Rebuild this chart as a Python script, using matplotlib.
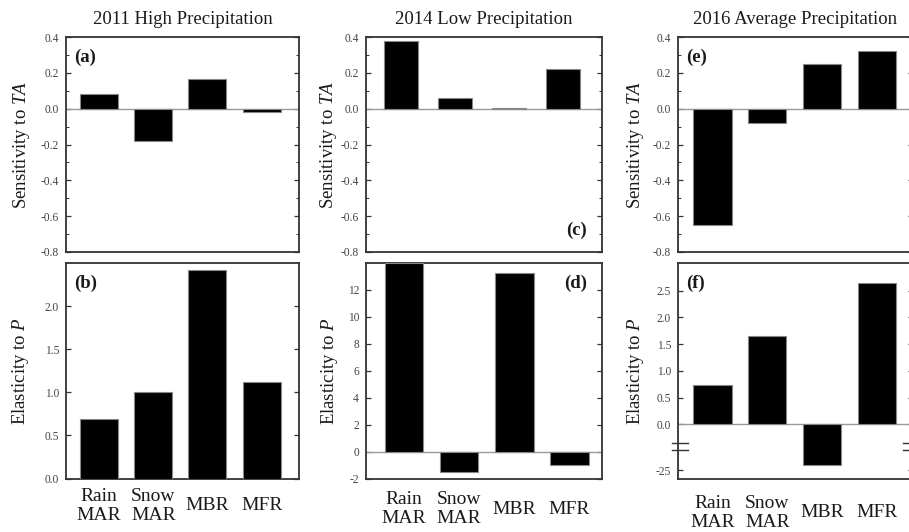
import numpy as np
import matplotlib
matplotlib.use("Agg")
import matplotlib.pyplot as plt
from matplotlib.ticker import MultipleLocator, FixedLocator
from matplotlib.transforms import offset_copy

plt.rcParams['font.family'] = ['Liberation Serif', 'DejaVu Serif']
plt.rcParams['mathtext.fontset'] = 'custom'
plt.rcParams['mathtext.rm'] = 'Liberation Serif'
plt.rcParams['mathtext.it'] = 'Liberation Serif:italic'

# ---------------- data ----------------
categories = ["Rain\nMAR", "Snow\nMAR", "MBR", "MFR"]
titles = ["2011 High Precipitation", "2014 Low Precipitation", "2016 Average Precipitation"]
sens_2011 = [0.082, -0.182, 0.164, -0.021]
elas_2011 = [0.69, 1.00, 2.42, 1.12]
sens_2014 = [0.377, 0.060, 0.005, 0.220]
elas_2014 = [14.0, -1.49, 13.26, -0.99]
sens_2016 = [-0.648, -0.082, 0.250, 0.320]
elas_2016 = [0.73, 1.66, -24.06, 2.64]
sens_ticks = [-0.8, -0.6, -0.4, -0.2, 0.0, 0.2, 0.4]
elas_ticks_2011 = [0.0, 0.5, 1.0, 1.5, 2.0]
elas_ticks_2014 = [-2, 0, 2, 4, 6, 8, 10, 12]
elas_ticks_2016 = [-25, 0.0, 0.5, 1.0, 1.5, 2.0, 2.5]
panel_labels = ["(a)", "(b)", "(c)", "(d)", "(e)", "(f)"]

# broken-axis scale for panel (f)
BRK = 20.6      # data value where the axis is broken
BRK_D = 0.42    # display depth of the break
LOW_K = 0.10    # scale below the break


def fwd(v):
    v = np.asarray(v, dtype=float)
    return np.where(v >= 0, v,
                    np.where(v >= -BRK, v * BRK_D / BRK, -BRK_D + (v + BRK) * LOW_K))


def inv(d):
    d = np.asarray(d, dtype=float)
    return np.where(d >= 0, d,
                    np.where(d >= -BRK_D, d * BRK / BRK_D, -BRK + (d + BRK_D) / LOW_K))


fig = plt.figure(figsize=(9.09, 5.32), dpi=100)
W, H = 909.0, 532.0

cols_x = [(66, 233), (366, 236), (678, 235)]
row_y = [(37, 252), (263, 478.5)]

TXT = '#1a1a1a'
SPN = '#333333'


def make_ax(col, row):
    x0, w = cols_x[col]
    t, b = row_y[row]
    return fig.add_axes([x0 / W, (H - b) / H, w / W, (b - t) / H])


def style(ax):
    for s in ax.spines.values():
        s.set_color(SPN)
        s.set_linewidth(1.3)
    ax.tick_params(axis='y', which='major', direction='in', length=3.5, width=0.9,
                   color=SPN, labelsize=8.3, labelcolor='#444444', pad=5,
                   left=True, right=True)
    ax.tick_params(axis='y', which='minor', direction='in', length=2, width=0.7,
                   color=SPN, left=True, right=True)


sens_data = [sens_2011, sens_2014, sens_2016]
elas_data = [elas_2011, elas_2014, elas_2016]
xlims_top = [(-0.61, 3.69), (-0.65, 3.72), (-0.63, 3.66)]
xlims_bot = [(-0.61, 3.69), (-0.69, 3.59), (-0.63, 3.66)]
widths_top = [0.70, 0.64, 0.70]
widths_bot = [0.70, 0.70, 0.70]
ylab_x_top = [-0.193, -0.161, -0.179]
ylab_x_bot = [-0.197, -0.153, -0.179]
xlab_pad = [19.5, 22.0, 24.5]

pos = np.arange(len(categories))

for c in range(3):
    # ---- top row: sensitivity ----
    ax = make_ax(c, 0)
    ax.bar(pos, sens_data[c], width=widths_top[c], color='black',
           edgecolor='#888888', linewidth=0.8, zorder=3)
    ax.axhline(0, color='#999999', linewidth=1.0, zorder=2)
    ax.set_xlim(*xlims_top[c])
    ax.set_ylim(-0.8, 0.4)
    ax.yaxis.set_major_locator(FixedLocator(sens_ticks))
    ax.set_yticklabels([f"{v:.1f}" for v in sens_ticks])
    ax.yaxis.set_minor_locator(MultipleLocator(0.1))
    ax.set_xticks([])
    style(ax)
    ax.set_ylabel("Sensitivity to $\\mathit{TA}$", fontsize=13.5, color=TXT, va='center')
    ax.yaxis.set_label_coords(ylab_x_top[c], 0.5)
    ax.set_title(titles[c], fontsize=13.5, color=TXT, pad=9)
    if c == 1:
        ax.text(0.935, 0.10, panel_labels[2 * c], transform=ax.transAxes,
                fontsize=13.5, fontweight='bold', ha='right', va='center', color=TXT)
    else:
        ax.text(0.035, 0.905, panel_labels[2 * c], transform=ax.transAxes,
                fontsize=13.5, fontweight='bold', ha='left', va='center', color=TXT)

    # ---- bottom row: elasticity ----
    ax = make_ax(c, 1)
    if c == 2:
        ax.set_yscale('function', functions=(fwd, inv))
    ax.bar(pos, elas_data[c], width=widths_bot[c], color='black',
           edgecolor='#888888', linewidth=0.8, zorder=3)
    ax.set_xlim(*xlims_bot[c])
    if c == 0:
        ax.set_ylim(0, 2.5)
        ticks = elas_ticks_2011
        labels = [f"{v:.1f}" for v in ticks]
    elif c == 1:
        ax.set_ylim(-2, 14)
        ticks = elas_ticks_2014
        labels = [f"{v:d}" for v in ticks]
        ax.axhline(0, color='#999999', linewidth=1.0, zorder=2)
    else:
        ax.set_ylim(-26.55, 3.02)
        ticks = elas_ticks_2016
        labels = ["-25"] + [f"{v:.1f}" for v in ticks[1:]]
        ax.axhline(0, color='#999999', linewidth=1.0, zorder=2)
    ax.yaxis.set_major_locator(FixedLocator(ticks))
    ax.set_yticklabels(labels)
    ax.yaxis.set_minor_locator(FixedLocator([]))
    style(ax)
    ax.set_xticks(pos)
    ax.set_xticklabels(categories, fontsize=14, color=TXT, va='center',
                       linespacing=1.15)
    ax.tick_params(axis='x', length=0, pad=xlab_pad[c])
    ax.set_ylabel("Elasticity to $\\mathit{P}$", fontsize=13.5, color=TXT, va='center')
    ax.yaxis.set_label_coords(ylab_x_bot[c], 0.5)
    if c == 1:
        ax.text(0.935, 0.905, panel_labels[2 * c + 1], transform=ax.transAxes,
                fontsize=13.5, fontweight='bold', ha='right', va='center', color=TXT)
    else:
        ax.text(0.035, 0.905, panel_labels[2 * c + 1], transform=ax.transAxes,
                fontsize=13.5, fontweight='bold', ha='left', va='center', color=TXT)

    if c == 2:
        # break marks on both spines
        bt = ax.get_yaxis_transform()
        w_ax = cols_x[c][1]
        for dy in (-2.6, 2.6):
            tr = offset_copy(bt, fig=fig, y=dy, units='points')
            ax.plot([-6 / w_ax, 10 / w_ax], [-BRK, -BRK], transform=tr,
                    color=SPN, linewidth=1.0, clip_on=False, zorder=5)
            ax.plot([1 - 10 / w_ax, 1 + 6 / w_ax], [-BRK, -BRK], transform=tr,
                    color=SPN, linewidth=1.0, clip_on=False, zorder=5)

fig.savefig("out.png", dpi=100)
